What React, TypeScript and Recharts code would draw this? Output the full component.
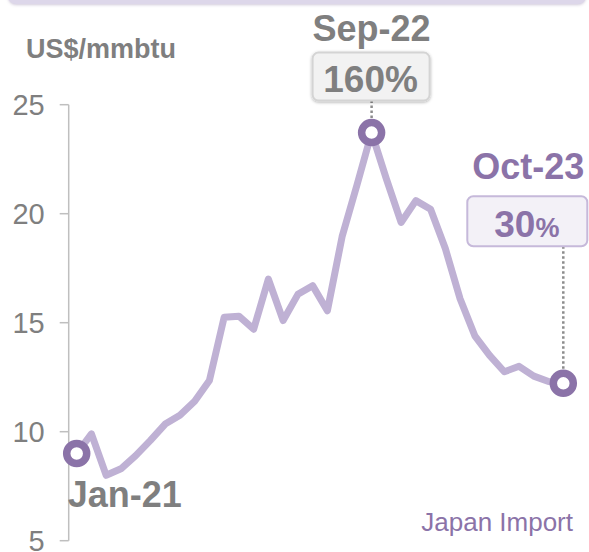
import React from 'react';
import { LineChart, Line, XAxis, YAxis } from 'recharts';

const months = [
  'Jan-21', 'Feb-21', 'Mar-21', 'Apr-21', 'May-21', 'Jun-21', 'Jul-21', 'Aug-21', 'Sep-21', 'Oct-21', 'Nov-21', 'Dec-21',
  'Jan-22', 'Feb-22', 'Mar-22', 'Apr-22', 'May-22', 'Jun-22', 'Jul-22', 'Aug-22', 'Sep-22', 'Oct-22', 'Nov-22', 'Dec-22',
  'Jan-23', 'Feb-23', 'Mar-23', 'Apr-23', 'May-23', 'Jun-23', 'Jul-23', 'Aug-23', 'Sep-23', 'Oct-23',
];

const japanImport = [
  9.0, 9.9, 8.0, 8.3, 8.9, 9.6, 10.35, 10.75, 11.4, 12.35, 15.25, 15.3,
  14.7, 17.0, 15.1, 16.3, 16.7, 15.55, 18.95, 21.3, 23.72, 21.6, 19.6, 20.6,
  20.2, 18.4, 16.1, 14.4, 13.5, 12.75, 13.0, 12.55, 12.3, 12.22,
];

const yTicks = [5, 10, 15, 20, 25];

// highlighted months and the change shown in their callout
const callouts = ['Jan-21', 'Sep-22', 'Oct-23'];
const calloutPct = ['', '160', '30'];

const data = months.map((m, i) => ({ month: m, price: japanImport[i] }));

const FONT = '"Liberation Sans", Arial, sans-serif';
const GRAY = '#7f7f7f';
const PURPLE = '#8b73a8';
const LINE = '#bfb1d4';

function HighlightDot(props: any) {
  const { cx, cy, payload, index } = props;
  const k = callouts.indexOf(payload.month);
  if (k < 0) return <g key={`d${index}`} />;
  const pct = calloutPct[k];
  return (
    <g key={`d${index}`}>
      {k === 0 && (
        <text x={cx - 9} y={cy + 53} fontFamily={FONT} fontWeight="bold" fontSize={36} fill={GRAY}>
          {payload.month}
        </text>
      )}
      {k === 1 && (
        <g>
          <text x={cx} y={cy - 92} textAnchor="middle" fontFamily={FONT} fontWeight="bold" fontSize={36} fill={GRAY}>
            {payload.month}
          </text>
          <line x1={cx} x2={cx} y1={cy - 32} y2={cy - 12} stroke="#8c8c8c" strokeWidth={2.5} strokeDasharray="2.5 2.5" />
          <rect x={cx - 59} y={cy - 80} width={117} height={48} rx={6} fill="#f2f2f2" stroke="#d4d4d4" strokeWidth={2} filter="url(#boxShadow)" />
          <text x={cx - 1} y={cy - 41} textAnchor="middle" fontFamily={FONT} fontWeight="bold" fontSize={37} fill={GRAY}>
            {pct}%
          </text>
        </g>
      )}
      {k === 2 && (
        <g>
          <text x={cx - 35} y={cy - 204} textAnchor="middle" fontFamily={FONT} fontWeight="bold" fontSize={36} fill={PURPLE}>
            {payload.month}
          </text>
          <line x1={cx} x2={cx} y1={cy - 137} y2={cy - 13} stroke="#8c8c8c" strokeWidth={2.5} strokeDasharray="2.5 2.5" />
          <rect x={cx - 96} y={cy - 187} width={120} height={50} rx={6} fill="#f3f1f7" stroke="#c6b9da" strokeWidth={2} />
          <text x={cx - 69} y={cy - 146} fontFamily={FONT} fontWeight="bold" fill={PURPLE}>
            <tspan fontSize={37}>{pct}</tspan>
            <tspan fontSize={27}>%</tspan>
          </text>
        </g>
      )}
      <circle cx={cx} cy={cy} r={10} fill="#ffffff" stroke={PURPLE} strokeWidth={7.5} />
    </g>
  );
}

export default function App() {
  return (
    <div style={{ position: 'absolute', left: 0, top: 0, width: 589, height: 552, background: '#fff' }}>
      <div
        style={{
          position: 'absolute', left: 8, top: -12, width: 578, height: 16, borderRadius: 8,
          background: '#ddd7ea', boxShadow: '0 1px 3px rgba(120,100,150,0.35)',
        }}
      />
      <div
        style={{
          position: 'absolute', left: 26, top: 34, fontFamily: FONT, fontWeight: 'bold', fontSize: 27, color: GRAY,
        }}
      >
        US$/mmbtu
      </div>
      <div
        style={{
          position: 'absolute', right: 16, top: 507, fontFamily: FONT, fontSize: 26, color: PURPLE,
        }}
      >
        Japan Import
      </div>
      <div style={{ position: 'absolute', left: 0, top: 0 }}>
        <LineChart width={589} height={552} data={data} margin={{ top: 104.7, right: 25.7, bottom: 11.3, left: 0 }}>
          <defs>
            <filter id="boxShadow" x="-20%" y="-20%" width="140%" height="150%">
              <feDropShadow dx="0" dy="1" stdDeviation="1.5" floodColor="#000" floodOpacity="0.3" />
            </filter>
          </defs>
          <XAxis dataKey="month" hide padding={{ left: 8, right: 0 }} />
          <YAxis
            domain={[5, 25]}
            ticks={yTicks}
            interval={0}
            width={68.7}
            tickSize={9}
            tickMargin={15}
            axisLine={{ stroke: '#bfbfbf', strokeWidth: 1.5 }}
            tickLine={{ stroke: '#bfbfbf', strokeWidth: 1.5 }}
            tick={{ fill: GRAY, fontSize: 29, fontFamily: FONT }}
          />
          <Line
            type="linear"
            dataKey="price"
            stroke={LINE}
            strokeWidth={7}
            strokeLinejoin="round"
            dot={HighlightDot}
            activeDot={false}
            isAnimationActive={false}
          />
        </LineChart>
      </div>
    </div>
  );
}
